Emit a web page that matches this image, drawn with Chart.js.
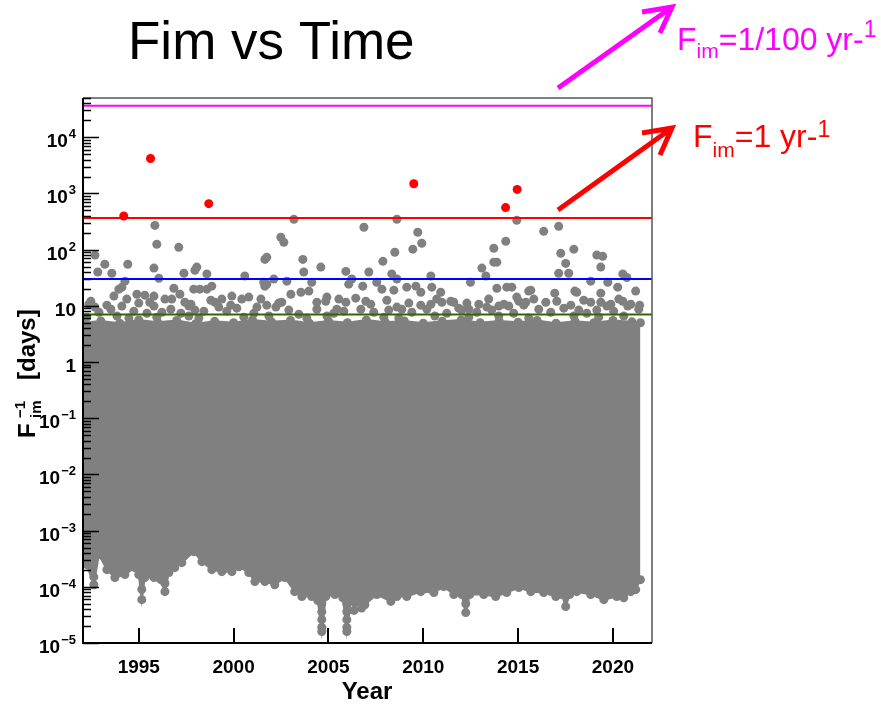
<!DOCTYPE html>
<html>
<head>
<meta charset="utf-8">
<script src="https://cdn.jsdelivr.net/npm/chart.js@4.4.1/dist/chart.umd.min.js"></script>
<style>
  html, body { margin: 0; padding: 0; background: #fff; }
  canvas { display: block; }
</style>
</head>
<body>
<canvas id="chart" width="881" height="706"></canvas>
<script>
// Axis ranges: x = year, y = 1/F_im in days (log)
var xMin = 1992.06, xMax = 2022.06;
var yMin = 1e-5, yMax = 5e4;

// Events above the 1 per year line
var redYears = [1994.21, 1995.62, 1998.69, 2009.50, 2014.34, 2014.95];
var redValues = [397, 4200, 659, 1490, 560, 1180];

// Isolated grey events sticking out of the dense band
var greyYears = [
  1992.69, 1993.21, 1994.42, 1992.84, 1993.58, 1994.27, 1994.11, 1993.95, 1993.69, 1994.37,
  1995.85, 1995.95, 1997.11, 1995.80, 1996.06, 1998.06, 1997.96, 1998.59, 1997.38, 1996.85,
  1996.74, 1997.17, 1997.43, 1997.90, 1998.22, 1998.85, 1998.59, 1994.90, 1995.32, 1995.80,
  1995.58, 1995.80, 1992.37, 1992.69, 1994.11, 1996.22, 1997.64, 1997.96, 1998.43, 1999.01,
  1999.22, 1999.38, 1999.91, 2000.43, 2000.80, 2001.23, 2001.75, 2000.59, 2001.75, 2001.65,
  2001.65, 2001.75, 2001.59, 2002.12, 2002.81, 2002.49, 2002.65, 2003.18, 2003.65, 2003.70,
  2004.12, 2004.60, 2002.23, 2002.54, 2003.02, 2003.55, 2003.97, 2004.92, 2004.86,
  2005.92, 2005.44, 2005.92, 2006.44, 2006.97, 2006.23, 2006.07, 2006.87, 2007.13, 2007.87,
  2006.81, 2007.55, 2007.82, 2008.34, 2008.61, 2008.61, 2009.71, 2009.92, 2009.45, 2008.50,
  2010.40, 2008.45, 2009.13, 2009.61, 2009.87, 2010.45, 2010.92, 2008.61, 2008.87, 2009.87,
  2010.40, 2010.98, 2011.45, 2011.61, 2012.03, 2012.40,
  2012.49, 2013.09, 2013.30, 2013.72, 2013.72, 2013.88, 2014.35, 2014.93, 2016.35, 2017.14,
  2017.25, 2017.94, 2017.51, 2017.14, 2017.67, 2019.15, 2019.46, 2019.36, 2018.83, 2020.52,
  2020.73, 2019.73, 2020.25, 2021.20, 2013.88, 2014.40, 2014.67, 2015.56, 2015.67, 2016.93,
  2017.99, 2018.09, 2019.36, 2014.93, 2015.83, 2016.46, 2018.83, 2019.36, 2020.31, 2020.94,
  2012.93, 2013.35, 2013.98, 2014.51, 2015.04, 2015.41, 2018.20, 2019.68, 2020.78
];
var greyValues = [
  80, 55, 55, 40, 38, 27.5, 21.5, 19.8, 14.9, 13.2,
  270, 125, 110, 47, 31, 49, 43, 37, 38, 20.6,
  13.2, 16.1, 11.6, 19.8, 19.8, 22.4, 19.8, 16.1, 15.5, 14.9,
  11.6, 9.9, 10.7, 9.5, 9.9, 7.7, 9.9, 8.4, 8.05, 11.6,
  9.5, 13.2, 14.9, 13.2, 14.3, 9.5, 10.3, 34, 73, 67,
  22.4, 24.3, 26.3, 30, 27.5, 166, 135, 347, 67, 40,
  26.3, 49, 9.5, 11.6, 16.1, 17.5, 18.3, 14.3, 12.1,
  41, 8.7, 11.6, 13.7, 12.1, 30, 24.3, 250, 40, 62,
  22.4, 26.3, 19.8, 37, 30, 347, 204, 130, 102, 90,
  34, 19.0, 21.5, 22.4, 17.5, 21.5, 17.5, 9.5, 8.7, 10.3,
  10.7, 11.6, 12.1, 11.6, 8.4, 8.7,
  26.3, 47, 34, 106, 60, 60, 141, 333, 212, 260,
  86, 102, 57, 38, 38, 80, 76, 49, 27.5, 37,
  32, 26.3, 21.5, 18.3, 20.6, 21.5, 21.5, 18.3, 19.0, 16.8,
  18.3, 17.5, 16.8, 14.3, 13.2, 11.6, 11.6, 11.6, 13.2, 10.7,
  10.7, 9.5, 9.9, 9.9, 12.1, 11.6, 8.4, 9.9, 9.9
];

// Crowded events just above the top of the dense band
var fringeYears = [
  1992.90, 1993.53, 1994.74, 1995.43, 1996.69, 1997.22, 1999.64, 2000.17, 2001.07, 2002.91,
  2003.44, 2004.39, 2005.28, 2005.81, 2006.71, 2007.39, 2008.18, 2009.40, 2010.19, 2011.24,
  2011.87, 2012.82, 2013.61, 2014.77, 2016.09, 2016.72, 2017.41, 2018.62, 2019.15, 2020.04,
  2021.36,
  1992.47, 1993.32, 1995.00, 1996.38, 1997.75, 1998.80, 1999.85, 2001.44, 2002.38, 2004.39,
  2005.55, 2007.23, 2008.08, 2009.24, 2010.71, 2012.30, 2013.45, 2014.25, 2015.30, 2017.04,
  2017.78, 2018.46, 2019.89, 2020.52, 2021.41,
  1992.26, 1993.85, 1994.48, 1995.95, 1997.64, 1998.17, 2000.54, 2001.86, 2003.86, 2004.92,
  2007.92, 2008.71, 2010.61, 2012.40, 2013.98, 2015.56, 2017.94, 2019.25, 2020.57
];
var fringeValues = [
  7.7, 8.7, 8.05, 7.4, 8.7, 7.4, 8.05, 9.1, 7.4, 8.4,
  7.1, 8.7, 7.4, 8.05, 8.7, 7.7, 8.4, 7.7, 8.7, 7.4,
  9.1, 7.7, 8.4, 7.4, 8.7, 7.7, 9.1, 7.4, 8.4, 8.05,
  8.7,
  12.1, 10.3, 11.2, 13.2, 10.7, 12.6, 10.3, 13.2, 11.2, 11.6,
  13.2, 10.7, 12.6, 11.2, 13.2, 11.2, 13.2, 10.7, 10.3, 12.1,
  10.3, 12.6, 10.7, 12.1, 10.3,
  6.3, 6.6, 6.05, 6.3, 6.6, 6.05, 6.3, 6.6, 6.05, 6.6,
  6.3, 6.05, 6.6, 6.3, 6.6, 6.05, 6.6, 6.3, 6.6
];

// Low-value events hanging below the band edge
var tailYears = [1992.63, 1995.16, 1996.38, 2004.65, 2004.65, 2004.65, 2004.65,
  2005.97, 2005.97, 2005.97, 2005.97, 2006.35, 2006.75, 2012.24];
var tailValues = [1.5e-4, 9.0e-5, 1.15e-4, 5.0e-5, 3.6e-5, 2.6e-5, 1.9e-5,
  5.0e-5, 3.6e-5, 2.6e-5, 1.9e-5, 3.8e-5, 4.2e-5, 5.0e-5];

// Dense band of events: upper edge
var bandTopYears = [1992.05, 1993, 1994, 1995, 1996, 1997, 1998, 1999, 2000, 2001,
  2002, 2003, 2004, 2005, 2006, 2007, 2008, 2009, 2010, 2011,
  2012, 2013, 2014, 2015, 2016, 2017, 2018, 2019, 2020, 2021, 2021.45];
var bandTopValues = [5.0, 5.4, 4.9, 5.6, 5.1, 5.5, 4.8, 5.3, 5.0, 5.6,
  5.2, 5.5, 4.9, 5.4, 5.0, 5.6, 5.1, 5.4, 4.9, 5.3,
  5.6, 5.0, 5.4, 5.1, 5.5, 4.9, 5.3, 5.0, 5.5, 5.2, 5.0];

// Dense band of events: lower edge
var bandLowYears = [1992.05, 1992.26, 1992.63, 1992.90, 1993.32, 1993.74, 1994.27, 1994.79, 1995.00, 1995.16,
  1995.32, 1995.80, 1996.16, 1996.38, 1996.59, 1996.90, 1997.27, 1997.90, 1998.33, 1998.85,
  1999.38, 1999.91, 2000.28, 2000.80, 2001.12, 2001.65, 2002.17, 2002.70, 2003.22, 2003.60,
  2004.12, 2004.44, 2004.65, 2004.86, 2005.34, 2005.76, 2005.97, 2006.18, 2006.39, 2006.92,
  2007.55, 2008.29, 2008.61, 2009.13, 2009.87, 2010.56, 2011.08, 2011.61, 2012.03, 2012.24,
  2012.45, 2013.19, 2013.82, 2014.40, 2015.04, 2015.67, 2016.35, 2016.99, 2017.30, 2017.51,
  2017.72, 2018.09, 2018.83, 2019.52, 2020.20, 2020.57, 2020.94, 2021.20, 2021.45];
var bandLowValues = [3.04e-4, 2.48e-4, 1.09e-4, 3.73e-4, 2.02e-4, 1.46e-4, 1.65e-4, 2.19e-4, 1.65e-4, 5.9e-5,
  1.46e-4, 1.46e-4, 1.34e-4, 8.2e-5, 1.79e-4, 2.19e-4, 2.69e-4, 4.22e-4, 2.80e-4, 2.02e-4,
  1.86e-4, 1.86e-4, 2.28e-4, 1.79e-4, 1.24e-4, 1.24e-4, 1.09e-4, 1.46e-4, 8.2e-5, 6.7e-5,
  6.7e-5, 5.7e-5, 1.60e-5, 6.7e-5, 7.3e-5, 6.4e-5, 1.60e-5, 5.7e-5, 5.2e-5, 4.8e-5,
  7.3e-5, 5.5e-5, 6.7e-5, 6.7e-5, 8.2e-5, 7.9e-5, 1.01e-4, 7.3e-5, 7.3e-5, 3.48e-5,
  7.3e-5, 7.3e-5, 6.7e-5, 7.9e-5, 9.7e-5, 8.2e-5, 7.9e-5, 6.7e-5, 7.3e-5, 4.45e-5,
  7.3e-5, 8.2e-5, 7.3e-5, 5.9e-5, 6.7e-5, 6.4e-5, 8.2e-5, 8.9e-5, 1.34e-4];

// Reference levels (days): 1/100 yr, 1 yr, 30 d, 7 d
var levelValues = [36500, 365, 30, 7];
var levelColors = ['#ff00ff', '#ff0000', '#0000ff', '#336600'];

var xTickYears = [1995, 2000, 2005, 2010, 2015, 2020];
var yTickExponents = [-5, -4, -3, -2, -1, 0, 1, 2, 3, 4];

var GREY = '#808080';
var FONT = '"Liberation Sans", Arial, Helvetica, sans-serif';

function pts(xs, ys) {
  return xs.map(function (x, i) { return { x: x, y: ys[i] }; });
}

function dots(xs, ys, color) {
  return {
    data: pts(xs, ys),
    showLine: false, pointRadius: 4.5, pointBackgroundColor: color, pointBorderWidth: 0, clip: 0
  };
}

var datasets = [];
datasets.push(dots(redYears, redValues, '#ff0000'));
levelValues.forEach(function (v, i) {
  datasets.push({
    data: [{ x: xMin, y: v }, { x: xMax, y: v }],
    borderColor: levelColors[i], borderWidth: 2, pointRadius: 0, fill: false, clip: 0
  });
});
datasets.push(dots(greyYears, greyValues, GREY));
datasets.push(dots(fringeYears, fringeValues, GREY));
datasets.push(dots(tailYears, tailValues, GREY));
datasets.push({
  data: pts(bandTopYears, bandTopValues),
  borderColor: GREY, borderWidth: 2,
  pointRadius: 4.5, pointBackgroundColor: GREY, pointBorderWidth: 0, fill: false, clip: 0
});
datasets.push({
  data: pts(bandLowYears, bandLowValues),
  borderColor: GREY, borderWidth: 2, backgroundColor: GREY,
  pointRadius: 4.5, pointBackgroundColor: GREY, pointBorderWidth: 0, fill: '-1', clip: 0
});

function richText(ctx, parts, x, y) {
  parts.forEach(function (p) {
    ctx.font = p[1] + 'px ' + FONT;
    ctx.fillText(p[0], x, y + p[2]);
    x += ctx.measureText(p[0]).width;
  });
}

function arrow(ctx, color, x0, y0, x1, y1, a1, a2) {
  ctx.strokeStyle = color;
  ctx.lineWidth = 5;
  ctx.lineCap = 'butt';
  ctx.lineJoin = 'miter';
  ctx.beginPath();
  ctx.moveTo(x0, y0); ctx.lineTo(x1, y1);
  ctx.moveTo(a1[0], a1[1]); ctx.lineTo(x1, y1); ctx.lineTo(a2[0], a2[1]);
  ctx.stroke();
}

var decor = {
  id: 'decor',
  afterDraw: function (chart) {
    var ctx = chart.ctx;
    var a = chart.chartArea;
    var xs = chart.scales.x, ys = chart.scales.y;
    ctx.save();

    // frame
    ctx.strokeStyle = '#555';
    ctx.lineWidth = 1.5;
    ctx.beginPath();
    ctx.moveTo(a.left, a.top); ctx.lineTo(a.right, a.top); ctx.lineTo(a.right, a.bottom);
    ctx.stroke();
    ctx.strokeStyle = '#000';
    ctx.lineWidth = 2;
    ctx.beginPath();
    ctx.moveTo(a.left, a.top); ctx.lineTo(a.left, a.bottom); ctx.lineTo(a.right, a.bottom);
    ctx.stroke();

    // y ticks (log, inward)
    ctx.lineWidth = 1.6;
    ctx.beginPath();
    yTickExponents.forEach(function (e) {
      for (var k = 1; k <= 9; k++) {
        var v = k * Math.pow(10, e);
        if (v > yMax) break;
        var py = Math.round(ys.getPixelForValue(v)) + 0.5;
        ctx.moveTo(a.left, py);
        ctx.lineTo(a.left + (k === 1 ? 16 : 8), py);
      }
    });
    ctx.stroke();

    // x ticks
    ctx.lineWidth = 2;
    ctx.beginPath();
    xTickYears.forEach(function (yr) {
      var px = Math.round(xs.getPixelForValue(yr));
      ctx.moveTo(px, a.bottom); ctx.lineTo(px, a.bottom - 15);
    });
    ctx.stroke();

    // y tick labels
    ctx.fillStyle = '#000';
    ctx.textAlign = 'right';
    ctx.textBaseline = 'alphabetic';
    yTickExponents.forEach(function (e) {
      var py = ys.getPixelForValue(Math.pow(10, e));
      var right = 76;
      if (e === 0 || e === 1) {
        ctx.font = 'bold 19px ' + FONT;
        ctx.fillText(e === 0 ? '1' : '10', right, py + 10);
      } else {
        var ex = (e < 0 ? '\u2212' : '') + Math.abs(e);
        ctx.font = 'bold 13px ' + FONT;
        ctx.fillText(ex, right, py + 1);
        var w = ctx.measureText(ex).width;
        ctx.font = 'bold 19px ' + FONT;
        ctx.fillText('10', right - w - 1, py + 10);
      }
    });

    // x tick labels
    ctx.textAlign = 'center';
    ctx.font = 'bold 19px ' + FONT;
    xTickYears.forEach(function (yr) {
      ctx.fillText(String(yr), xs.getPixelForValue(yr), 673);
    });

    // x title
    ctx.font = 'bold 24px ' + FONT;
    ctx.fillText('Year', 367, 699);

    // y title (rotated)
    ctx.save();
    ctx.translate(35, 438);
    ctx.rotate(-Math.PI / 2);
    ctx.textAlign = 'left';
    ctx.font = 'bold 24px ' + FONT;
    ctx.fillText('F', 0, 0);
    ctx.font = 'bold 15px ' + FONT;
    ctx.fillText('\u2212' + '1', 20, -10);
    ctx.fillText('im', 20, 6);
    ctx.font = 'bold 24px ' + FONT;
    ctx.fillText('[days]', 58, 0);
    ctx.restore();

    // title
    ctx.textAlign = 'left';
    ctx.font = '53px ' + FONT;
    ctx.fillText('Fim vs Time', 128, 59);

    // annotations
    ctx.fillStyle = '#ff00ff';
    richText(ctx, [['F', 32, 0], ['im', 21, 8], ['=1/100 yr-', 32, 0], ['1', 23, -13]], 677, 50);
    ctx.fillStyle = '#ff0000';
    richText(ctx, [['F', 32, 0], ['im', 21, 10], ['=1 yr-', 32, 0], ['1', 23, -10]], 693, 147);

    arrow(ctx, '#ff00ff', 558, 88, 672, 7, [642, 12], [660, 33]);
    arrow(ctx, '#ff0000', 558, 210, 672, 128, [642, 133], [660, 155]);

    ctx.restore();
  }
};

new Chart(document.getElementById('chart'), {
  type: 'line',
  data: { datasets: datasets },
  options: {
    responsive: false,
    animation: false,
    layout: { padding: { left: 83, top: 98, right: 229, bottom: 63 } },
    elements: { line: { tension: 0 } },
    scales: {
      x: { type: 'linear', min: xMin, max: xMax, display: false },
      y: { type: 'logarithmic', min: yMin, max: yMax, display: false }
    },
    plugins: {
      legend: { display: false },
      tooltip: { enabled: false }
    }
  },
  plugins: [decor]
});
</script>
</body>
</html>
